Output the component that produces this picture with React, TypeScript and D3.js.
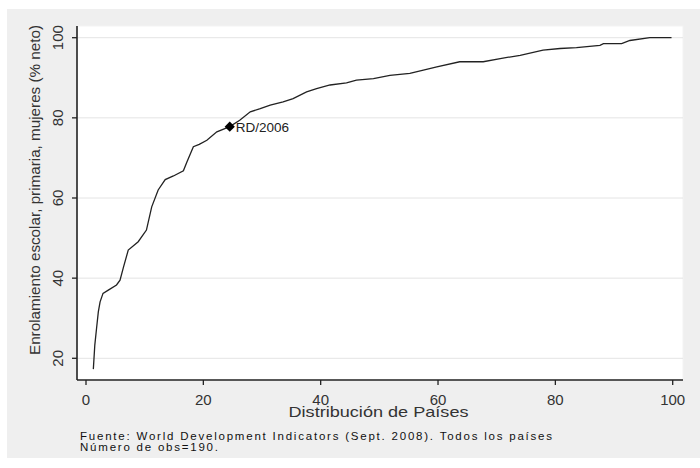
import React from "react";
import * as d3 from "d3";

const pctX = [1.25,1.5,1.8,2.1,2.4,2.9,3.8,5.2,5.8,6.4,7.2,8.9,10.3,11.2,12.3,13.5,14.9,16.6,17.2,18.3,19.3,20.6,22.3,24.5,26.2,28,29.7,31.4,33.6,35.3,37.6,39.3,41.6,44.4,46.1,49,51.8,55.2,57.5,59.8,63.7,67.7,70.6,74,77.9,80.8,83.6,87.6,88.2,91.3,92.7,96.1,99.8];
const enrol = [17.3,23.3,27.5,31.6,34.1,36.2,37.0,38.3,39.5,42.8,47.0,49.1,52.0,57.8,62.0,64.6,65.5,66.8,69.0,72.8,73.4,74.4,76.5,77.8,79.4,81.5,82.3,83.2,84.0,84.8,86.5,87.3,88.2,88.7,89.4,89.8,90.6,91.1,91.9,92.7,94.0,94.0,94.8,95.6,96.9,97.3,97.5,98.1,98.5,98.5,99.3,100,100];
const xTicks = [0, 20, 40, 60, 80, 100];
const yTicks = [20, 40, 60, 80, 100];
const highlight = { x: 24.5, y: 77.8, label: "RD/2006" };
const xTitle = "Distribución de Países";
const yTitle = "Enrolamiento escolar, primaria, mujeres (% neto)";
const note1 = "Fuente: World Development Indicators (Sept. 2008). Todos los países";
const note2 = "Número de obs=190.";

export default function App() {
  const W = 700, H = 468;
  const plot = { l: 77, r: 683, t: 26, b: 380 };
  const x = d3.scaleLinear().domain([0, 100]).range([86, 672.7]);
  const y = d3.scaleLinear().domain([20, 100]).range([358.3, 37.7]);
  const pts = pctX.map((v, i) => [v, enrol[i]] as [number, number]);
  const line = d3.line<[number, number]>().x(d => x(d[0])).y(d => y(d[1]));
  const font = "Arial, 'Liberation Sans', sans-serif";
  const diamond = d3.symbol().type(d3.symbolSquare).size(52)();
  return (
    <svg width={W} height={H} style={{ position: "absolute", left: 0, top: 0 }} fontFamily={font}>
      <rect x={0} y={0} width={W} height={H} fill="#ffffff" />
      <rect x={7} y={9} width={W - 7} height={449} fill="#efefef" />
      <rect x={plot.l} y={plot.t} width={plot.r - plot.l} height={plot.b - plot.t} fill="#ffffff" stroke="#f3f3f3" />
      {yTicks.map(t => (
        <line key={"g" + t} x1={plot.l} x2={plot.r} y1={y(t)} y2={y(t)} stroke="#e4e4e4" strokeWidth={1} />
      ))}
      <path d={line(pts) || ""} fill="none" stroke="#222" strokeWidth={1.3} />
      <path d={diamond} transform={`translate(${x(highlight.x)},${y(highlight.y)}) rotate(45)`} fill="#000" />
      <text x={x(highlight.x) + 6} y={y(highlight.y) + 5} fontSize={13.5} fill="#222">{highlight.label}</text>
      <line x1={plot.l} x2={plot.l} y1={plot.t} y2={plot.b} stroke="#222" strokeWidth={1.6} />
      <line x1={plot.l} x2={plot.r} y1={plot.b} y2={plot.b} stroke="#222" strokeWidth={1.6} />
      {yTicks.map(t => (
        <g key={"y" + t}>
          <line x1={plot.l - 5} x2={plot.l} y1={y(t)} y2={y(t)} stroke="#222" strokeWidth={1.3} />
          <text transform={`translate(63,${y(t)}) rotate(-90)`} textAnchor="middle" fontSize={15} fill="#333">{t}</text>
        </g>
      ))}
      {xTicks.map(t => (
        <g key={"x" + t}>
          <line x1={x(t)} x2={x(t)} y1={plot.b} y2={plot.b + 5} stroke="#222" strokeWidth={1.3} />
          <text x={x(t)} y={404.5} textAnchor="middle" fontSize={15} fill="#333">{t}</text>
        </g>
      ))}
      <text x={378.5} y={416.5} textAnchor="middle" fontSize={15} fill="#333" textLength={180} lengthAdjust="spacingAndGlyphs">{xTitle}</text>
      <text transform={`translate(40,190) rotate(-90)`} textAnchor="middle" fontSize={15} fill="#333" textLength={330} lengthAdjust="spacingAndGlyphs">{yTitle}</text>
      <text x={80} y={440} fontSize={11.5} fill="#111" textLength={472} lengthAdjust="spacing">{note1}</text>
      <text x={80} y={451} fontSize={11.5} fill="#111" textLength={138} lengthAdjust="spacing">{note2}</text>
    </svg>
  );
}
